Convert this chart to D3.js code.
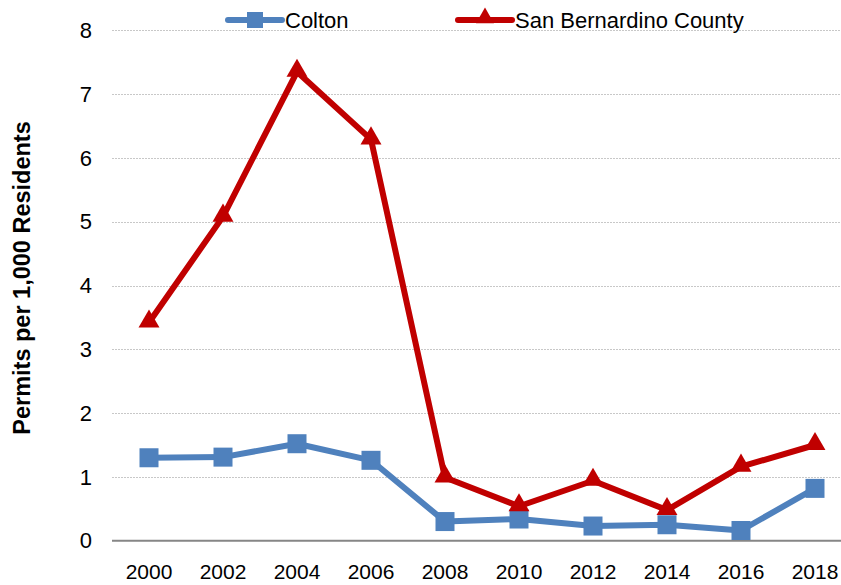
<!DOCTYPE html>
<html>
<head>
<meta charset="utf-8">
<script src="https://cdn.jsdelivr.net/npm/d3@7"></script>
<style>
  body { margin: 0; background: #fff; }
  text { font-family: "Liberation Sans", Arial, sans-serif; }
</style>
</head>
<body>
<svg id="chart"></svg>
<script>
const width = 841;
const height = 585;

// data
const years = ["2000", "2002", "2004", "2006", "2008", "2010", "2012", "2014", "2016", "2018"];
const colton = [1.30, 1.31, 1.52, 1.26, 0.30, 0.34, 0.23, 0.25, 0.16, 0.82];
const sanBernardino = [3.42, 5.08, 7.35, 6.29, 0.99, 0.54, 0.94, 0.48, 1.16, 1.50];
const yTicks = [0, 1, 2, 3, 4, 5, 6, 7, 8];

const blue = "#4F81BD";
const red = "#C00000";

var svg = d3.select("#chart")
    .attr("width", width)
    .attr("height", height);

var x = d3.scaleBand()
    .domain(years)
    .range([112, 852]);

var y = d3.scaleLinear()
    .domain([0, 8])
    .range([540.7, 30.3]);

// gridlines
svg.append("g")
    .selectAll("line")
    .data(yTicks.filter(d => d > 0))
    .enter().append("line")
    .attr("x1", 112)
    .attr("x2", width)
    .attr("y1", d => Math.round(y(d)) + 0.5)
    .attr("y2", d => Math.round(y(d)) + 0.5)
    .attr("stroke", "#c8c8c8")
    .attr("stroke-width", 1)
    .attr("stroke-dasharray", "2,1");

// x axis line
svg.append("line")
    .attr("x1", 112)
    .attr("x2", width)
    .attr("y1", y(0))
    .attr("y2", y(0))
    .attr("stroke", "#868686")
    .attr("stroke-width", 2);

// y tick labels
svg.append("g")
    .selectAll("text")
    .data(yTicks)
    .enter().append("text")
    .attr("x", 92)
    .attr("y", d => y(d))
    .attr("dy", "0.35em")
    .attr("text-anchor", "end")
    .attr("font-size", 22)
    .attr("fill", "#000")
    .text(d => d);

// x tick labels
svg.append("g")
    .selectAll("text")
    .data(years)
    .enter().append("text")
    .attr("x", d => x(d) + x.bandwidth() / 2)
    .attr("y", 579)
    .attr("text-anchor", "middle")
    .attr("font-size", 21)
    .attr("fill", "#000")
    .text(d => d);

// y axis title
svg.append("text")
    .attr("transform", "translate(30,278) rotate(-90)")
    .attr("text-anchor", "middle")
    .attr("font-size", 23.5)
    .attr("font-weight", "bold")
    .attr("fill", "#000")
    .text("Permits per 1,000 Residents");

var line = d3.line()
    .x((d, i) => x(years[i]) + x.bandwidth() / 2)
    .y(d => y(d));

var tri = d3.symbol().type(d3.symbolTriangle).size(190);

// Colton
svg.append("path")
    .datum(colton)
    .attr("fill", "none")
    .attr("stroke", blue)
    .attr("stroke-width", 6)
    .attr("stroke-linejoin", "round")
    .attr("d", line);

svg.append("g")
    .selectAll("rect")
    .data(colton)
    .enter().append("rect")
    .attr("x", (d, i) => x(years[i]) + x.bandwidth() / 2 - 9.5)
    .attr("y", d => y(d) - 9.5)
    .attr("width", 19)
    .attr("height", 19)
    .attr("fill", blue);

// San Bernardino County
svg.append("path")
    .datum(sanBernardino)
    .attr("fill", "none")
    .attr("stroke", red)
    .attr("stroke-width", 6)
    .attr("stroke-linejoin", "round")
    .attr("d", line);

svg.append("g")
    .selectAll("path")
    .data(sanBernardino)
    .enter().append("path")
    .attr("transform", (d, i) => `translate(${x(years[i]) + x.bandwidth() / 2},${y(d) - 1})`)
    .attr("d", tri)
    .attr("fill", red);

// legend
const legend = svg.append("g");
const legendItems = [
    { name: "Colton", color: blue, x0: 228, shape: "square" },
    { name: "San Bernardino County", color: red, x0: 458, shape: "triangle" }
];
legendItems.forEach(item => {
    legend.append("line")
        .attr("x1", item.x0)
        .attr("x2", item.x0 + 54)
        .attr("y1", 20)
        .attr("y2", 20)
        .attr("stroke", item.color)
        .attr("stroke-width", 6)
        .attr("stroke-linecap", "round");
    if (item.shape === "square") {
        legend.append("rect")
            .attr("x", item.x0 + 27 - 8)
            .attr("y", 20 - 8)
            .attr("width", 16)
            .attr("height", 16)
            .attr("fill", item.color);
    } else {
        legend.append("path")
            .attr("transform", `translate(${item.x0 + 27},18)`)
            .attr("d", d3.symbol().type(d3.symbolTriangle).size(140))
            .attr("fill", item.color);
    }
    legend.append("text")
        .attr("x", item.x0 + 57)
        .attr("y", 20)
        .attr("dy", "0.35em")
        .attr("font-size", 22)
        .attr("fill", "#000")
        .text(item.name);
});
</script>
</body>
</html>
